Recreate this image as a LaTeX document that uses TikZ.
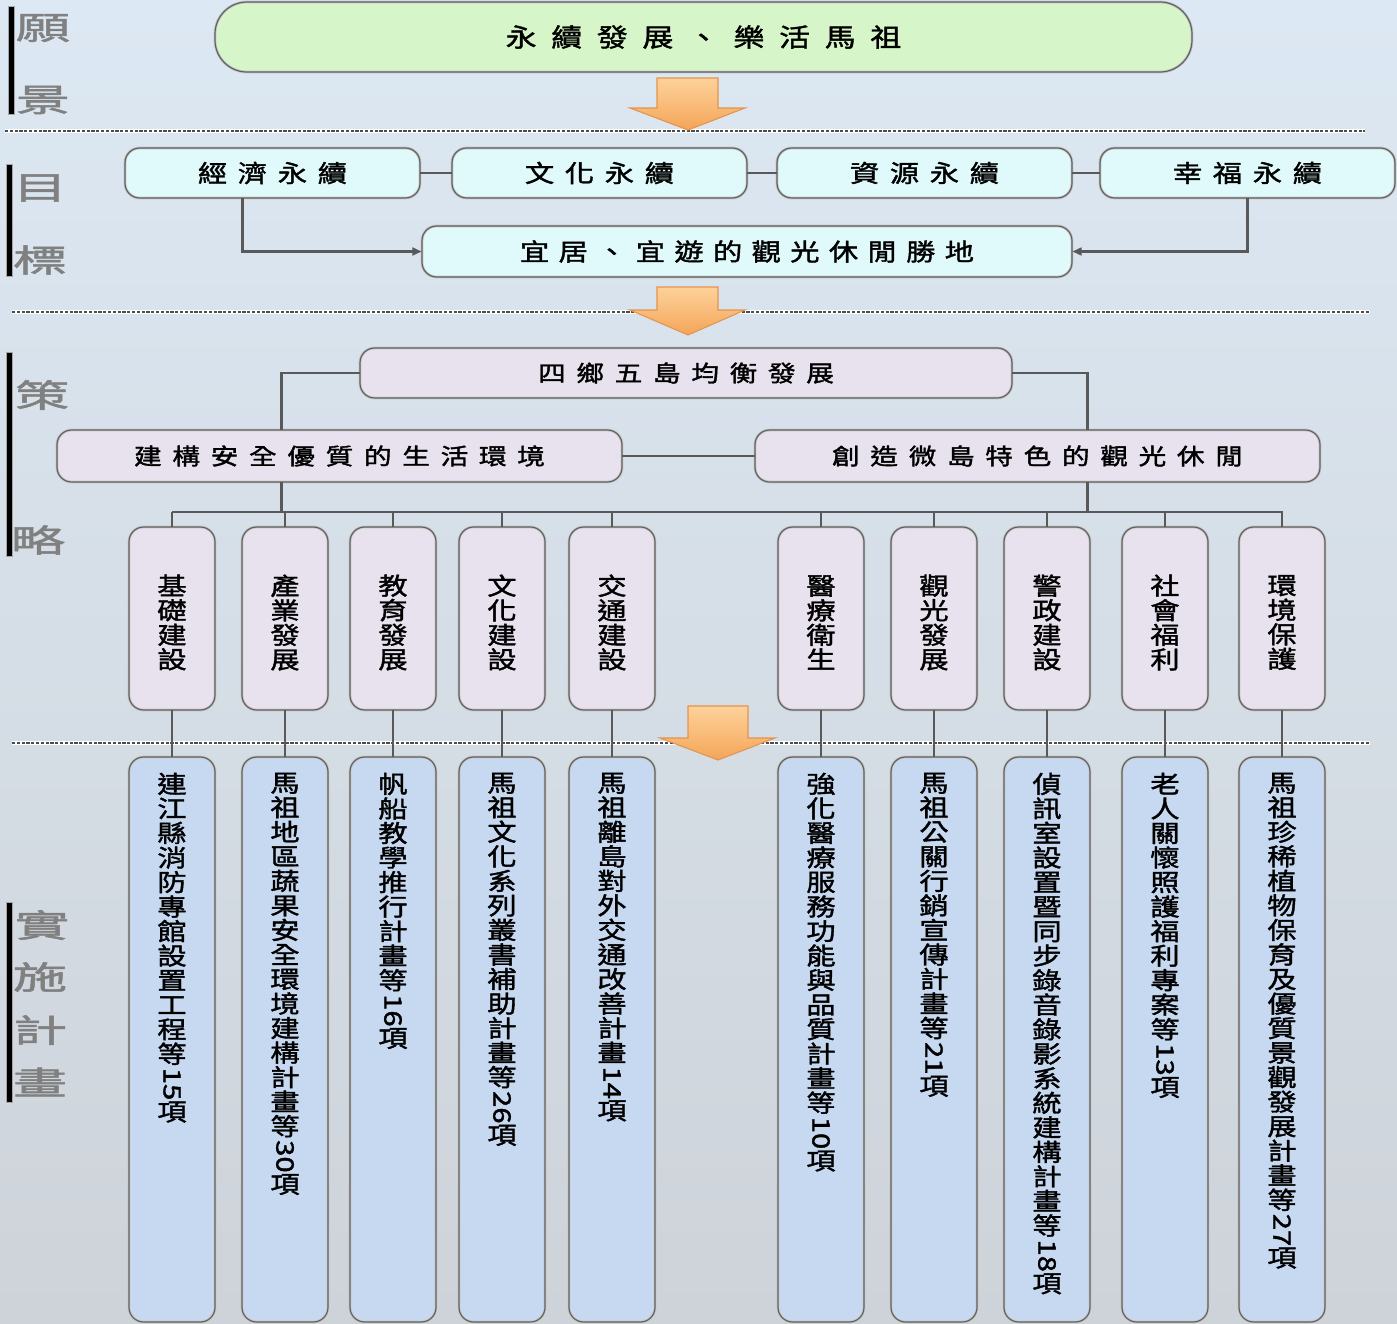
\documentclass[tikz,border=0pt]{standalone}
\usepackage{fontspec}
\usepackage{graphicx}
\usetikzlibrary{fit,arrows.meta,calc}
\newfontfamily\cjk[FakeStretch=1.22,FakeBold=1.6]{Noto Sans CJK TC}
\newfontfamily\cjkside[FakeStretch=1.7,FakeBold=1.6]{Noto Sans CJK TC}
\definecolor{titleG}{RGB}{214,245,200}
\definecolor{goalC}{RGB}{224,250,252}
\definecolor{stratL}{RGB}{232,226,238}
\definecolor{planB}{RGB}{198,217,240}
\definecolor{arrTop}{RGB}{253,210,155}
\definecolor{arrBot}{RGB}{244,165,88}
\definecolor{arrLine}{RGB}{228,148,78}
\definecolor{bgTop}{RGB}{220,232,243}
\definecolor{bgBot}{RGB}{206,211,217}
\ExplSyntaxOn
\NewDocumentCommand\spaced{mm}{\tl_map_inline:nn {#2}{##1\hspace{#1}}\unskip}
\NewDocumentCommand\vstack{m}{\vbox:n{\tl_map_inline:nn {#1}{\hbox_to_wd:nn{30pt}{\hss ##1\hss}}}}
\ExplSyntaxOff
\newcommand\rnum[1]{\raisebox{0.82em}{\rotatebox{-90}{#1}}}
\newcommand\xvstack[1]{\expandafter\vstack\expandafter{#1}}
\begin{document}
\begin{tikzpicture}[x=0.75pt,y=-0.75pt,
  box/.style={draw=gray!45, double=black!62, double distance=0.9pt, line width=0.6pt, inner sep=0pt},
  titlebox/.style={box, fill=titleG, rounded corners=24pt},
  goalbox/.style={box, fill=goalC, rounded corners=11pt},
  stratbox/.style={box, fill=stratL, rounded corners=11pt},
  planbox/.style={box, fill=planB, rounded corners=11pt},
  conn/.style={draw=black!65, line width=1.6pt},
  tip/.style={-{Triangle[length=7pt,width=6pt]}},
  htext/.style={font=\cjk\fontsize{18}{20}\selectfont, inner sep=0pt},
  stext/.style={font=\cjk\fontsize{17}{19}\selectfont, inner sep=0pt},
  vtext/.style={font=\cjk\fontsize{18}{18.4}\selectfont, inner sep=0pt},
  sidelab/.style={font=\cjkside\fontsize{24}{24}\selectfont, text=black!50, inner sep=0pt},
  sidebar/.style={fill=black, draw=gray!70, line width=0.6pt},
  sepunder/.style={draw=white, line width=3pt},
  sepline/.style={draw=gray!60!black, line width=1.2pt, dash pattern=on 2.4pt off 1.2pt},
  blockarrow/.style={draw=arrLine, line width=0.8pt, top color=arrTop, bottom color=arrBot}
]
\useasboundingbox (0,0) rectangle (1397,1324);
\fill[top color=bgTop, bottom color=bgBot] (0,0) rectangle (1397,1324);

% separators
\draw[sepunder] (5,131) -- (1365,131);
\draw[sepline] (5,131) -- (1365,131);
\draw[sepunder] (12,312) -- (1370,312);
\draw[sepline] (12,312) -- (1370,312);
\draw[sepunder] (12,743) -- (1370,743);
\draw[sepline] (12,743) -- (1370,743);

% side bars and labels
\draw[sidebar] (8,6) rectangle (14,114);
\node[sidelab] (l1) at (43,28) {願};
\node[sidelab] (l2) at (43,100) {景};
\draw[sidebar] (6,164) rectangle (12,276);
\node[sidelab] (l3) at (40,188) {目};
\node[sidelab] (l4) at (40,260) {標};
\draw[sidebar] (6,352) rectangle (12,556);
\node[sidelab] (l5) at (42,395) {策};
\node[sidelab] (l6) at (38,540) {略};
\draw[sidebar] (6,902) rectangle (12,1102);
\node[sidelab] (l7) at (42,925) {實};
\node[sidelab] (l8) at (40,977) {施};
\node[sidelab] (l9) at (40,1030) {計};
\node[sidelab] (l10) at (40,1082) {畫};

% vision
\node[titlebox, fit={(215,2)(1192,72)}] (title) {};
\node[htext, font=\cjk\fontsize{19}{21}\selectfont] (titlet) at (title.center) {\spaced{11pt}{永續發展、樂活馬祖}};

% arrow 1
\draw[blockarrow] (657,78) -- (718,78) -- (718,108) -- (745,108) -- (688,130) -- (630,108) -- (657,108) -- cycle;

% goals
\node[goalbox, fit={(125,148)(420,198)}] (g1) {};
\node[goalbox, fit={(452,148)(747,198)}] (g2) {};
\node[goalbox, fit={(777,148)(1072,198)}] (g3) {};
\node[goalbox, fit={(1100,148)(1395,198)}] (g4) {};
\node[goalbox, fit={(422,226)(1072,277)}] (gc) {};
\node[htext] (g1t) at (g1.center) {\spaced{8pt}{經濟永續}};
\node[htext] (g2t) at (g2.center) {\spaced{8pt}{文化永續}};
\node[htext] (g3t) at (g3.center) {\spaced{8pt}{資源永續}};
\node[htext] (g4t) at (g4.center) {\spaced{8pt}{幸福永續}};
\node[htext] (gct) at (gc.center) {\spaced{7pt}{宜居、宜遊的觀光休閒勝地}};
\draw[conn] (g1.east) -- (g2.west);
\draw[conn] (g2.east) -- (g3.west);
\draw[conn] (g3.east) -- (g4.west);
\draw[conn,tip] ($(g1.south)+(-30,0)$) |- (gc.west);
\draw[conn,tip] (g4.south) |- (gc.east);

% arrow 2
\draw[blockarrow] (657,287) -- (718,287) -- (718,310) -- (745,310) -- (688,335) -- (630,310) -- (657,310) -- cycle;

% strategies
\node[stratbox, fit={(360,348)(1012,398)}] (sa) {};
\node[stratbox, fit={(57,430)(622,482)}] (sb) {};
\node[stratbox, fit={(755,430)(1320,482)}] (sc) {};
\node[stext] (sat) at (sa.center) {\spaced{8pt}{四鄉五島均衡發展}};
\node[stext] (sbt) at (sb.center) {\spaced{8pt}{建構安全優質的生活環境}};
\node[stext] (sct) at (sc.center) {\spaced{8pt}{創造微島特色的觀光休閒}};
\coordinate (sbx) at ($(sb.north)+(-58,0)$);
\coordinate (scx) at ($(sc.north)+(50,0)$);
\coordinate (sbxs) at ($(sb.south)+(-58,0)$);
\coordinate (scxs) at ($(sc.south)+(50,0)$);
\coordinate (busL) at (172,512);
\coordinate (busR) at (1283,512);
\draw[conn] (sa.west) -| (sbx);
\draw[conn] (sa.east) -| (scx);
\draw[conn] (sb.east) -- (sc.west);
\draw[conn] (sbxs) -- (sbxs |- busL);
\draw[conn] (scxs) -- (scxs |- busL);
\draw[conn] (busL) -- (busR);

% strategy columns
\foreach \i/\x/\t in {1/172/基礎建設, 2/285/產業發展, 3/393/教育發展, 4/502/文化建設, 5/612/交通建設,
                     6/821/醫療衛生, 7/934/觀光發展, 8/1047/警政建設, 9/1165/社會福利, 10/1282/環境保護}{
  \node[stratbox, fit={(\x-43,527)(\x+43,710)}] (s\i) {};
  \node[vtext] (st\i) at ($(s\i.center)+(0,4)$) {\xvstack{\t}};
  \draw[conn] (s\i.north) -- (s\i.north |- busL);
}

% arrow 3
\draw[blockarrow] (688,706) -- (748,706) -- (748,738) -- (775,738) -- (718,760) -- (660,738) -- (688,738) -- cycle;

% plans
\foreach \i/\x/\t in {
  1/172/{連江縣消防專館設置工程等{\rnum{15}}項},
  2/285/{馬祖地區蔬果安全環境建構計畫等{\rnum{30}}項},
  3/393/{帆船教學推行計畫等{\rnum{16}}項},
  4/502/{馬祖文化系列叢書補助計畫等{\rnum{26}}項},
  5/612/{馬祖離島對外交通改善計畫{\rnum{14}}項},
  6/821/{強化醫療服務功能與品質計畫等{\rnum{10}}項},
  7/934/{馬祖公關行銷宣傳計畫等{\rnum{21}}項},
  8/1047/{偵訊室設置暨同步錄音錄影系統建構計畫等{\rnum{18}}項},
  9/1165/{老人關懷照護福利專案等{\rnum{13}}項},
  10/1282/{馬祖珍稀植物保育及優質景觀發展計畫等{\rnum{27}}項}}{
  \node[planbox, fit={(\x-43,757)(\x+43,1322)}] (p\i) {};
  \node[vtext, anchor=north] (pt\i) at ($(p\i.north)+(0,16)$) {\xvstack{\t}};
  \draw[conn] (s\i.south) -- (p\i.north);
}
\end{tikzpicture}
\end{document}
